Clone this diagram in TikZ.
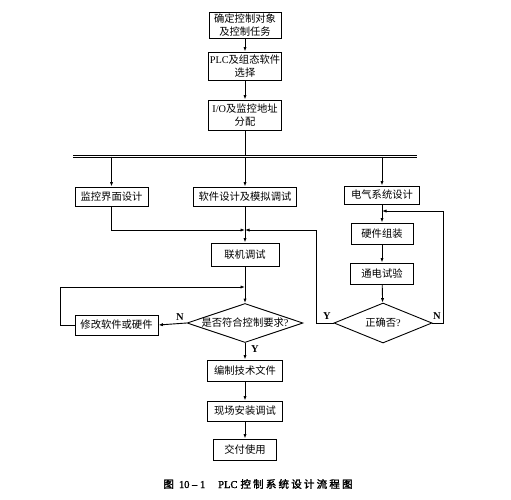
\documentclass[tikz,border=0pt]{standalone}
\usepackage{fontspec}
\setmainfont{Noto Sans CJK SC}
\newfontfamily\lat{Liberation Serif}
\newfontfamily\cjkb[FakeBold=2]{Noto Sans CJK SC}
\newfontfamily\latb[FakeBold=1.5]{Liberation Serif}
\usetikzlibrary{shapes.geometric,arrows.meta}
\begin{document}
\begin{tikzpicture}[x=1pt,y=-1pt,
  font=\fontsize{10.3}{12.5}\selectfont,
  line width=0.9pt,
  arr/.style={-{Latex[length=4.5pt,width=3.2pt]}},
  box/.style={draw,inner sep=0pt,align=center},
  dia/.style={draw,diamond,inner sep=0pt},
  lbl/.style={font=\lat\fontsize{10.5}{12}\selectfont\bfseries}]
\useasboundingbox (0,0) rectangle (511,500);
% top column
\node[box,minimum width=72pt,minimum height=26pt] (b1) at (245,25) {确定控制对象\\及控制任务};
\node[box,minimum width=73pt,minimum height=28pt] (b2) at (245,66) {{\lat PLC}及组态软件\\选择};
\node[box,minimum width=73pt,minimum height=30pt] (b3) at (245,115) {{\lat I/O}及监控地址\\分配};
% second row
\node[box,minimum width=73pt,minimum height=19pt] (m1) at (111.5,196.5) {监控界面设计};
\node[box,minimum width=103pt,minimum height=19pt] (m2) at (245,196.5) {软件设计及模拟调试};
\node[box,minimum width=75pt,minimum height=18pt] (m3) at (382,195) {电气系统设计};
% bar
\coordinate (barL) at (73,156.5);
\coordinate (barR) at (417,156.5);
\coordinate (bm1) at (111.5,156.5);
\coordinate (bm3) at (382,156.5);
% middle
\node[box,minimum width=68pt,minimum height=23pt] (lj) at (245,254.5) {联机调试};
\node[box,minimum width=62pt,minimum height=21pt] (hw) at (382,233.5) {硬件组装};
\node[box,minimum width=63pt,minimum height=21pt] (td) at (382,273.5) {通电试验};
\node[dia,minimum width=98pt,minimum height=40pt] (d2) at (383,323) {};
\node at (d2) {正确否{\lat ?}};
\node[dia,minimum width=116pt,minimum height=39pt] (d1) at (245,323) {};
\node at (d1) {是否符合控制要求{\lat ?}};
\node[box,minimum width=83pt,minimum height=20pt] (xg) at (116.5,325) {修改软件或硬件};
% bottom column
\node[box,minimum width=75pt,minimum height=21pt] (bz) at (245,370.5) {编制技术文件};
\node[box,minimum width=75pt,minimum height=20pt] (xc) at (245,411) {现场安装调试};
\node[box,minimum width=63pt,minimum height=21pt] (jf) at (245,449.5) {交付使用};
% caption
\node[font=\fontsize{10.5}{12}\selectfont,anchor=west,inner sep=0pt] (cap) at (163,484) {{\cjkb 图}\hspace{5pt}{\latb 10 – 1}\hspace{13pt}{\latb PLC}\hspace{3pt}{\cjkb 控\hspace{2.2pt}制\hspace{2.2pt}系\hspace{2.2pt}统\hspace{2.2pt}设\hspace{2.2pt}计\hspace{2.2pt}流\hspace{2.2pt}程\hspace{2.2pt}图}};
% junction coordinates
\coordinate (j) at (245,230);
\coordinate (yc) at (316,230);
\coordinate (nc) at (443,211);
\coordinate (hin) at (382,211);
\coordinate (lc) at (60,287);
\coordinate (lin) at (245,287);
% connectors
\draw[arr] (b1) -- (b2);
\draw[arr] (b2) -- (b3);
\draw[arr] (b3) -- (m2);
\draw[double,double distance=1.8pt,line width=1pt] (barL) -- (barR);
\draw[arr] (bm1) -- (m1);
\draw[arr] (bm3) -- (m3);
\draw[arr] (m1.south) |- (j);
\draw[arr] (m2) -- (lj);
\draw[arr] (d2.west) -| (yc) -- (j);
\draw[arr] (m3) -- (hw);
\draw[arr] (hw) -- (td);
\draw[arr] (td) -- (d2);
\draw[arr] (d2.east) -| (nc) -- (hin);
\draw[arr] (lj) -- (d1);
\draw[arr] (d1.west) -- (xg.east);
\draw[arr] (xg.west) -| (lc) -- (lin);
\draw[arr] (d1.south) -- (bz);
\draw[arr] (bz) -- (xc);
\draw[arr] (xc) -- (jf);
% labels
\node[lbl] (ln1) at (180,317) {N};
\node[lbl] (ly1) at (255,349) {Y};
\node[lbl] (ly2) at (327,316) {Y};
\node[lbl] (ln2) at (437,316) {N};
\end{tikzpicture}
\end{document}
